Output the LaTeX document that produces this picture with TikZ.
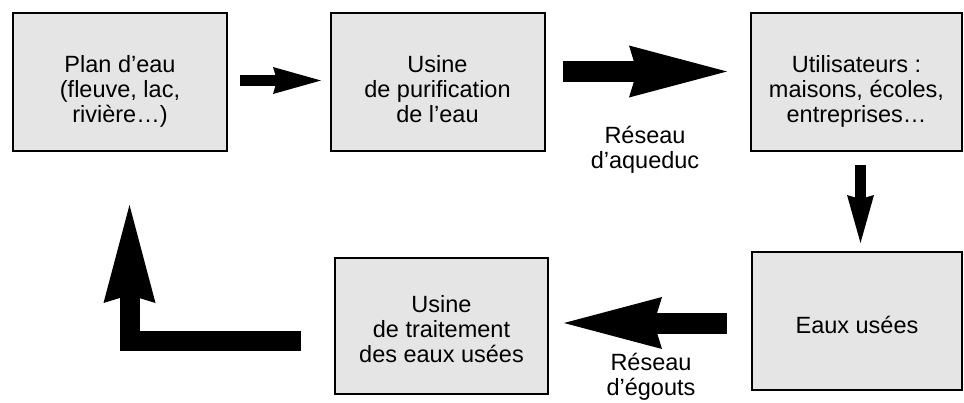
\documentclass[tikz,border=0pt]{standalone}
\usepackage{fontspec}
\setmainfont{Liberation Sans}
\usepackage{tikz}
\usetikzlibrary{positioning,arrows.meta,calc}
\tikzset{
bloc/.style={
  draw=black,
  line width=2pt,
  fill=black!10,
  minimum width=214pt,
  minimum height=138pt,
  inner sep=0pt,
  align=center,
  font=\fontsize{23.5}{25}\selectfont
},
trois/.style={text height=85pt, text depth=5pt},
etiq/.style={inner sep=0pt, align=center, font=\fontsize{23.5}{25}\selectfont},
grossefleche/.style={line width=21pt, -{Stealth[length=98pt, width=52pt, inset=8pt, line width=0pt]}},
petitefleche/.style={line width=11pt, -{Stealth[length=48pt, width=27pt, inset=4pt, line width=0pt]}}
}
\begin{document}
\begin{tikzpicture}[x=1pt, y=-1pt]
  \useasboundingbox (0,0) rectangle (964,402);

  % les cinq etapes
  \node[bloc,trois] (plan) at (120,82) {Plan d’eau\\(fleuve, lac,\\rivière…)};
  \node[bloc,trois] (purif) at (437.5,82) {Usine\\de purification\\de l’eau};
  \node[bloc,trois,minimum width=211pt] (util) at (856.5,82) {Utilisateurs :\\maisons, écoles,\\entreprises…};
  \node[bloc,minimum width=210pt,text height=29pt,text depth=5pt] (usees) at (857,321) {Eaux usées};
  \node[bloc,trois,minimum width=213pt,minimum height=136pt,text height=77pt] (traite) at (441.5,326) {Usine\\de traitement\\des eaux usées};

  % bouts des fleches
  \coordinate (f1a) at (240,80.5);
  \coordinate (f1b) at (321,80.5);
  \coordinate (aqa) at (563,71.5);
  \coordinate (aqb) at (727,71.5);
  \coordinate (f3a) at (860.5,165);
  \coordinate (f3b) at (860.5,243);
  \coordinate (ega) at (727,323);
  \coordinate (egb) at (564,323);
  \coordinate (reta) at (301,341);
  \coordinate (retb) at (129.5,205);

  \draw[petitefleche] (f1a) -- (f1b);
  \draw[grossefleche] (aqa) -- (aqb);
  \draw[petitefleche] (f3a) -- (f3b);
  \draw[grossefleche] (ega) -- (egb);
  \draw[grossefleche, line width=20pt] (reta) -| (retb);

  \node[etiq] (aqueduc) at (645,149.5) {Réseau\\d’aqueduc};
  \node[etiq] (egouts) at (651,377) {Réseau\\d’égouts};
\end{tikzpicture}
\end{document}
